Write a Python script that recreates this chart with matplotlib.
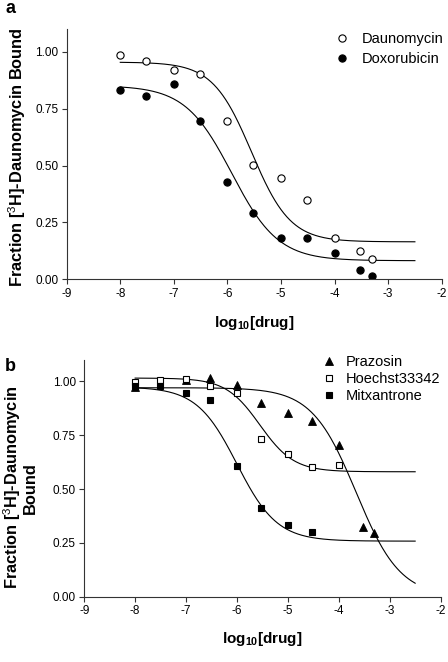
import numpy as np
import matplotlib
matplotlib.use("Agg")
import matplotlib.pyplot as plt

plt.rcParams['font.family'] = ['Liberation Sans', 'DejaVu Sans']
plt.rcParams['axes.unicode_minus'] = False
plt.rcParams['mathtext.fontset'] = 'custom'
plt.rcParams['mathtext.bf'] = 'Liberation Sans:bold'
plt.rcParams['mathtext.rm'] = 'Liberation Sans'

# log10 of drug concentrations (1e-8, 3e-8, ... 3e-4, 5e-4 M)
dose = [-8, -7.52, -7, -6.52, -6, -5.52, -5, -4.52, -4, -3.52, -3.3]

# panel a
daunomycin = [0.988, 0.958, 0.919, 0.903, 0.695, 0.502, 0.444, 0.347, 0.182, 0.126, 0.089]
doxorubicin = [0.832, 0.804, 0.859, 0.697, 0.426, 0.290, 0.183, 0.180, 0.114, 0.040, 0.013]

# panel b
dose_prazosin = [-8, -7, -6.52, -6, -5.52, -5, -4.52, -4, -3.52, -3.3]
prazosin = [0.975, 1.008, 1.015, 0.985, 0.897, 0.851, 0.815, 0.705, 0.323, 0.297]
hoechst = [0.997, 1.005, 1.012, 0.980, 0.947, 0.734, 0.662, 0.600, 0.611]
mitxantrone = [0.980, 0.980, 0.946, 0.915, 0.605, 0.411, 0.334, 0.302]

# fitted sigmoid parameters: top, bottom, logEC50, hill slope
fit_daunomycin = [0.955, 0.165, -5.55, 1.2]
fit_doxorubicin = [0.852, 0.082, -5.92, 1.0]
fit_prazosin = [0.970, 0.0, -3.66, 1.0]
fit_hoechst = [1.015, 0.580, -5.55, 1.3]
fit_mitxantrone = [0.974, 0.258, -6.0, 1.1]


def sigmoid(x, p):
    top, bottom, ec50, hill = p
    return bottom + (top - bottom) / (1 + 10 ** (hill * (x - ec50)))


def style_axes(ax):
    for side in ['top', 'right']:
        ax.spines[side].set_visible(False)
    for side in ['left', 'bottom']:
        ax.spines[side].set_color('#333333')
        ax.spines[side].set_linewidth(0.8)
    ax.set_xlim(-9, -2)
    ax.set_ylim(0, 1.1)
    ax.set_xticks(range(-9, -1))
    ax.set_yticks([0, 0.25, 0.5, 0.75, 1.0])
    ax.set_yticklabels(['%.2f' % v for v in [0, 0.25, 0.5, 0.75, 1.0]])
    ax.tick_params(direction='out', length=3.5, width=0.8, color='#333333',
                   labelsize=8.5, pad=2.5)
    ax.set_xlabel(r'$\mathbf{log_{10}[drug]}$', fontsize=11)


fig = plt.figure(figsize=(4.48, 6.62), dpi=100)
xs = np.linspace(-8, -2.5, 300)

# ---- panel a
ax1 = fig.add_axes([0.1489, 0.578, 0.837, 0.378])
style_axes(ax1)
ax1.plot(xs, sigmoid(xs, fit_daunomycin), color='black', lw=0.8)
ax1.plot(xs, sigmoid(xs, fit_doxorubicin), color='black', lw=0.8)
ax1.plot(dose, daunomycin, 'o', ms=5.2, mfc='white', mec='black', mew=0.8,
         label='Daunomycin')
ax1.plot(dose, doxorubicin, 'o', ms=5.2, mfc='black', mec='black', mew=0.8,
         label='Doxorubicin')
ax1.set_ylabel('Fraction [$^3$H]-Daunomycin Bound', fontsize=11.8,
               fontweight='bold')
ax1.yaxis.set_label_coords(-0.103, 0.49)
ax1.xaxis.set_label_coords(0.5, -0.14)
ax1.legend(loc='upper left', bbox_to_anchor=(0.715, 0.99), frameon=False,
           fontsize=10.5, handlelength=1.0, handletextpad=0.85,
           labelspacing=0.45, borderpad=0, borderaxespad=0)

# ---- panel b
ax2 = fig.add_axes([0.188, 0.0986, 0.7955, 0.358])
style_axes(ax2)
ax2.plot(xs, sigmoid(xs, fit_prazosin), color='black', lw=0.8)
ax2.plot(xs, sigmoid(xs, fit_hoechst), color='black', lw=0.8)
ax2.plot(xs, sigmoid(xs, fit_mitxantrone), color='black', lw=0.8)
ax2.plot(dose_prazosin, prazosin, '^', ms=5.2, mfc='black', mec='black',
         mew=0.6, label='Prazosin')
ax2.plot(dose[:len(hoechst)], hoechst, 's', ms=5.0, mfc='white', mec='black',
         mew=0.8, label='Hoechst33342')
ax2.plot(dose[:len(mitxantrone)], mitxantrone, 's', ms=5.0, mfc='black',
         mec='black', mew=0.8, label='Mitxantrone')
ax2.set_ylabel('Fraction [$^3$H]-Daunomycin\nBound', fontsize=11.8,
               fontweight='bold', linespacing=1.0)
ax2.yaxis.set_label_coords(-0.13, 0.46)
ax2.xaxis.set_label_coords(0.5, -0.14)
ax2.legend(loc='upper left', bbox_to_anchor=(0.665, 1.02), frameon=False,
           fontsize=10.5, handlelength=1.0, handletextpad=0.65,
           labelspacing=0.22, borderpad=0, borderaxespad=0)

fig.text(6 / 448, 1 - 13 / 662, 'a', fontsize=13, fontweight='bold',
         va='baseline')
fig.text(5 / 448, 1 - 371 / 662, 'b', fontsize=13, fontweight='bold',
         va='baseline')

fig.savefig('out.png', dpi=100)
